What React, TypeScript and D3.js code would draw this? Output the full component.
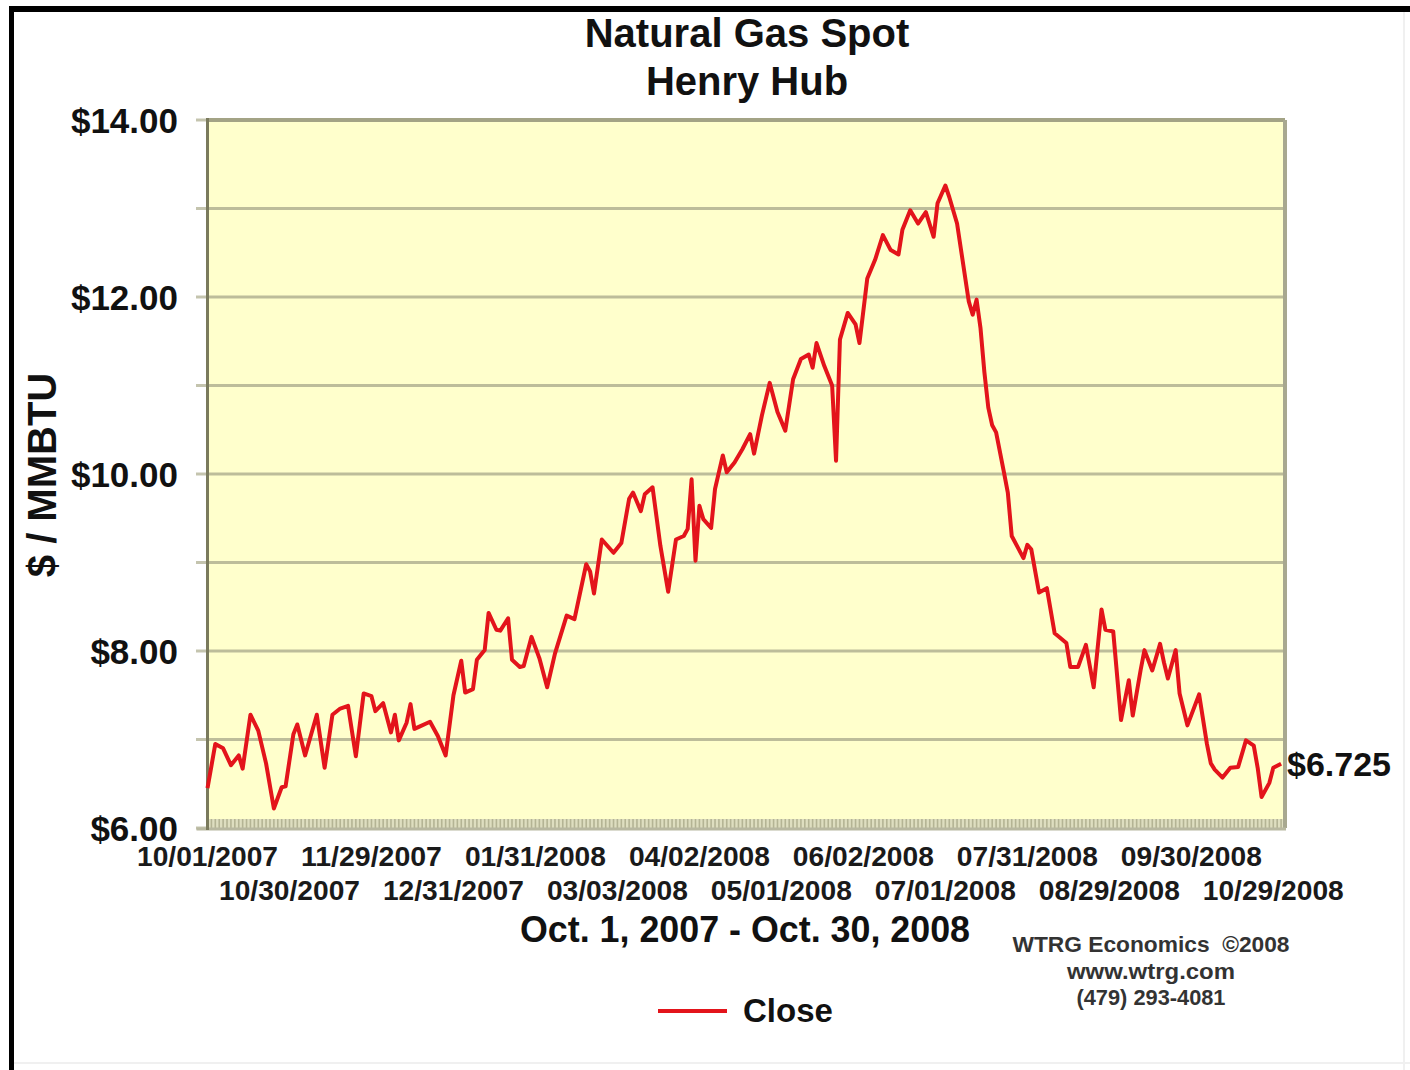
import React from 'react';
import * as d3 from 'd3';

// Trading-day index (0 = 10/01/2007) and Henry Hub spot close ($/MMBTU)
const dayIdx = [
  0, 1, 2, 4, 6, 8, 9, 11, 13, 15, 17, 19, 20, 22, 23, 25, 28, 30, 32, 34, 36, 38, 40, 42, 43, 45, 47, 48, 49,
  51, 52, 53, 54, 57, 59, 61, 63, 65, 66, 68, 69, 71, 72, 74, 75, 77, 78, 80, 81, 83, 85, 87, 89, 92, 94, 97,
  98, 99, 101, 104, 106, 108, 109, 111, 112, 114, 116, 118, 120, 122, 123, 124, 125, 126, 127, 129, 130, 132,
  133, 135, 137, 139, 140, 142, 144, 146, 148, 150, 152, 154, 155, 156, 158, 160, 161, 162, 164, 166, 167,
  169, 171, 173, 175, 177, 178, 180, 182, 184, 186, 187, 189, 190, 192, 195, 196, 197, 198, 199, 200, 201,
  202, 204, 205, 206, 209, 210, 211, 213, 215, 217, 220, 221, 223, 225, 227, 229, 230, 232, 234, 236, 237,
  239, 240, 242, 244, 245, 246, 248, 249, 251, 254, 256, 257, 258, 260, 262, 264, 266, 268, 269, 270, 272,
  273, 275,
];
const closePrice = [
  6.45, 6.7, 6.95, 6.9, 6.71, 6.82, 6.67, 7.28, 7.1, 6.73, 6.22, 6.46, 6.47, 7.06, 7.17, 6.82, 7.28, 6.68, 7.28,
  7.35, 7.38, 6.81, 7.52, 7.49, 7.32, 7.41, 7.08, 7.28, 6.99, 7.19, 7.4, 7.12, 7.14, 7.2, 7.04, 6.82, 7.5,
  7.89, 7.53, 7.57, 7.9, 8.01, 8.43, 8.24, 8.23, 8.37, 7.9, 7.82, 7.83, 8.16, 7.92, 7.59, 7.97, 8.4, 8.36,
  8.98, 8.9, 8.65, 9.26, 9.11, 9.22, 9.72, 9.79, 9.58, 9.77, 9.85, 9.19, 8.67, 9.26, 9.3, 9.38, 9.94, 9.02,
  9.64, 9.49, 9.39, 9.83, 10.21, 10.02, 10.13, 10.28, 10.45, 10.23, 10.66, 11.03, 10.7, 10.49, 11.07, 11.3,
  11.35, 11.2, 11.48, 11.22, 11.0, 10.15, 11.52, 11.82, 11.69, 11.48, 12.21, 12.42, 12.7, 12.53, 12.48,
  12.76, 12.98, 12.83, 12.96, 12.68, 13.06, 13.26, 13.13, 12.83, 11.95, 11.8, 11.97, 11.65, 11.15, 10.75,
  10.55, 10.47, 10.02, 9.79, 9.3, 9.05, 9.2, 9.15, 8.66, 8.71, 8.2, 8.09, 7.82, 7.82, 8.07, 7.59, 8.47, 8.24,
  8.22, 7.22, 7.67, 7.27, 7.78, 8.01, 7.78, 8.08, 7.87, 7.69, 8.01, 7.52, 7.16, 7.51, 6.95, 6.73, 6.66, 6.57,
  6.68, 6.69, 6.99, 6.93, 6.68, 6.35, 6.51, 6.68, 6.725,
];
const tickIdx = [0, 21, 42, 63, 84, 105, 126, 147, 168, 189, 210, 231, 252, 273];
const tickLabels = [
  '10/01/2007', '10/30/2007', '11/29/2007', '12/31/2007', '01/31/2008', '03/03/2008', '04/02/2008',
  '05/01/2008', '06/02/2008', '07/01/2008', '07/31/2008', '08/29/2008', '09/30/2008', '10/29/2008',
];
const gridValues = [6, 7, 8, 9, 10, 11, 12, 13, 14];
const yLabelValues = [6, 8, 10, 12, 14];
const lastLabel = '$6.725';
const titleLines = ['Natural Gas Spot', 'Henry Hub'];
const xTitle = 'Oct. 1, 2007 - Oct. 30, 2008';
const yTitle = '$ / MMBTU';
const seriesName = 'Close';
const creditLines = ['WTRG Economics  \u00A92008', 'www.wtrg.com', '(479) 293-4081'];
const creditWidths = [277, 168, 149];

const FONT = '"Liberation Sans", Arial, sans-serif';

export default function App() {
  const W = 1410;
  const H = 1070;
  const left = 207.5;
  const right = 1285;
  const top = 120;
  const bottom = 828;
  const x = d3.scaleLinear().domain([0, 276]).range([left, right]);
  const y = d3.scaleLinear().domain([6, 14]).range([bottom, top]);
  const line = d3
    .line<number>()
    .x((_, i) => x(dayIdx[i]))
    .y((d) => y(d));
  const minorTicks = d3.range(0, 276);
  const fmt = (v: number) => '$' + d3.format('.2f')(v);
  const lastY = y(closePrice[closePrice.length - 1]);

  return (
    <div style={{ position: 'absolute', left: 0, top: 0 }}>
      <svg width={W} height={H} style={{ display: 'block', background: '#fff' }} fontFamily={FONT}>
        <rect x={0} y={0} width={W} height={H} fill="#fff" />
        {/* outer frame */}
        <rect x={9} y={6} width={W - 9} height={6} fill="#000" />
        <rect x={9} y={6} width={5} height={H - 6} fill="#000" />
        <line x1={1404} y1={12} x2={1404} y2={H} stroke="#f0f0f0" strokeWidth={2} />
        <line x1={14} y1={1063} x2={W} y2={1063} stroke="#f0f0f0" strokeWidth={2} />

        {/* title */}
        {titleLines.map((t, i) => (
          <text
            key={t}
            x={747}
            y={47 + i * 48}
            textAnchor="middle"
            fontSize={40}
            fontWeight="bold"
            fill="#111"
          >
            {t}
          </text>
        ))}

        {/* plot background */}
        <rect x={left} y={top} width={right - left} height={bottom - top} fill="#FFFFCC" />

        {/* gridlines and y tick stubs */}
        {gridValues.map((v) => (
          <g key={v}>
            {v !== 6 && v !== 14 && (
              <line x1={left} x2={right} y1={y(v)} y2={y(v)} stroke="#BDBD9A" strokeWidth={3} />
            )}
            <line x1={196} x2={left} y1={y(v)} y2={y(v)} stroke="#C4C4AE" strokeWidth={3} />
          </g>
        ))}

        {/* minor day ticks at bottom */}
        <rect x={left} y={bottom - 9} width={right - left} height={9} fill="#DEDEC0" />
        {minorTicks.map((d) => (
          <line
            key={d}
            x1={x(d)}
            x2={x(d)}
            y1={bottom - 9}
            y2={bottom}
            stroke="#B4B494"
            strokeWidth={1.6}
          />
        ))}

        {/* plot border */}
        <line x1={left} x2={right} y1={top} y2={top} stroke="#A3A385" strokeWidth={4} />
        <line x1={right} x2={right} y1={top} y2={bottom} stroke="#A8A890" strokeWidth={4} />
        <line x1={left - 11} x2={right + 1} y1={bottom + 1} y2={bottom + 1} stroke="#B8B8A0" strokeWidth={3} />
        <line x1={left} x2={left} y1={top - 2} y2={bottom + 2} stroke="#7A7A5C" strokeWidth={3} />

        {/* data line */}
        <path
          d={line(closePrice) || ''}
          fill="none"
          stroke="#E3141B"
          strokeWidth={4}
          strokeLinejoin="round"
        />

        {/* y labels */}
        {yLabelValues.map((v) => (
          <text
            key={v}
            x={178}
            y={y(v) + 12.5}
            textAnchor="end"
            fontSize={35}
            fontWeight="bold"
            fill="#111"
          >
            {fmt(v)}
          </text>
        ))}

        {/* y title */}
        <text
          transform={`translate(56, 475) rotate(-90)`}
          textAnchor="middle"
          fontSize={40}
          fontWeight="bold"
          fill="#111"
        >
          {yTitle}
        </text>

        {/* x tick labels */}
        {tickIdx.map((d, i) => (
          <text
            key={d}
            x={x(d)}
            y={i % 2 === 0 ? 866 : 900}
            textAnchor="middle"
            fontSize={28}
            fontWeight="bold"
            fill="#1a1a1a"
            textLength={141}
            lengthAdjust="spacingAndGlyphs"
          >
            {tickLabels[i]}
          </text>
        ))}

        {/* x title */}
        <text
          x={745}
          y={942}
          textAnchor="middle"
          fontSize={36}
          fontWeight="bold"
          fill="#111"
          textLength={450}
          lengthAdjust="spacingAndGlyphs"
        >
          {xTitle}
        </text>

        {/* last value label */}
        <text x={1287} y={lastY + 12} fontSize={34} fontWeight="bold" fill="#111">
          {lastLabel}
        </text>

        {/* legend */}
        <line x1={658} x2={727} y1={1011} y2={1011} stroke="#E3141B" strokeWidth={4} />
        <text x={743} y={1022} fontSize={33} fontWeight="bold" fill="#111">
          {seriesName}
        </text>

        {/* credit */}
        {creditLines.map((t, i) => (
          <text
            key={t}
            x={1151}
            y={952 + i * 26.5}
            textAnchor="middle"
            fontSize={22}
            fontWeight="bold"
            fill="#333"
            textLength={creditWidths[i]}
            lengthAdjust="spacingAndGlyphs"
            style={{ whiteSpace: 'pre' }}
          >
            {t}
          </text>
        ))}
      </svg>
    </div>
  );
}
